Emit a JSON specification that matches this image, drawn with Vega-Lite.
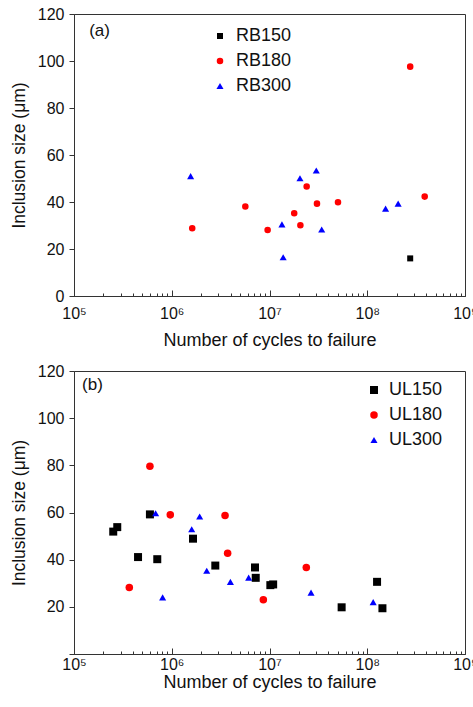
{
  "$schema": "https://vega.github.io/schema/vega-lite/v6.json",
  "autosize": {"type": "pad"},
  "padding": {"left": 9, "top": 5, "right": 0, "bottom": 0},
  "background": "white",
  "bounds": "flush",
  "spacing": 75,
  "config": {
    "font": "Liberation Sans",
    "view": {"stroke": "#333", "strokeWidth": 1},
    "axis": {"grid": false, "domainColor": "#333", "tickColor": "#333", "labelColor": "#111", "titleColor": "#111", "labelFont": "Liberation Sans", "titleFont": "Liberation Sans", "titleFontWeight": "normal", "labelFontSize": 16},
    "legend": {"labelFont": "Liberation Sans", "labelFontSize": 18, "labelColor": "#111", "padding": 0}
  },
  "datasets": {
    "a": [
      {"cycles": 2.75e8, "size": 16.0, "series": "RB150"},
      {"cycles": 1.62e6, "size": 28.8, "series": "RB180"},
      {"cycles": 5.66e6, "size": 38.1, "series": "RB180"},
      {"cycles": 9.57e6, "size": 28.1, "series": "RB180"},
      {"cycles": 1.79e7, "size": 35.2, "series": "RB180"},
      {"cycles": 2.07e7, "size": 30.1, "series": "RB180"},
      {"cycles": 2.40e7, "size": 46.6, "series": "RB180"},
      {"cycles": 3.06e7, "size": 39.3, "series": "RB180"},
      {"cycles": 5.02e7, "size": 39.9, "series": "RB180"},
      {"cycles": 2.75e8, "size": 97.6, "series": "RB180"},
      {"cycles": 3.87e8, "size": 42.3, "series": "RB180"},
      {"cycles": 1.56e6, "size": 51.0, "series": "RB300"},
      {"cycles": 1.34e7, "size": 30.5, "series": "RB300"},
      {"cycles": 1.38e7, "size": 16.5, "series": "RB300"},
      {"cycles": 2.05e7, "size": 50.1, "series": "RB300"},
      {"cycles": 3.01e7, "size": 53.4, "series": "RB300"},
      {"cycles": 3.42e7, "size": 28.3, "series": "RB300"},
      {"cycles": 1.54e8, "size": 37.2, "series": "RB300"},
      {"cycles": 2.07e8, "size": 39.3, "series": "RB300"}
    ],
    "b": [
      {"cycles": 2.52e5, "size": 51.9, "series": "UL150"},
      {"cycles": 2.77e5, "size": 53.8, "series": "UL150"},
      {"cycles": 4.52e5, "size": 41.1, "series": "UL150"},
      {"cycles": 5.98e5, "size": 59.2, "series": "UL150"},
      {"cycles": 7.11e5, "size": 40.2, "series": "UL150"},
      {"cycles": 1.65e6, "size": 48.9, "series": "UL150"},
      {"cycles": 2.79e6, "size": 37.5, "series": "UL150"},
      {"cycles": 7.11e6, "size": 36.7, "series": "UL150"},
      {"cycles": 7.23e6, "size": 32.3, "series": "UL150"},
      {"cycles": 1.02e7, "size": 29.2, "series": "UL150"},
      {"cycles": 1.09e7, "size": 29.5, "series": "UL150"},
      {"cycles": 5.47e7, "size": 19.8, "series": "UL150"},
      {"cycles": 1.26e8, "size": 30.6, "series": "UL150"},
      {"cycles": 1.43e8, "size": 19.4, "series": "UL150"},
      {"cycles": 3.68e5, "size": 28.2, "series": "UL180"},
      {"cycles": 5.98e5, "size": 79.6, "series": "UL180"},
      {"cycles": 9.66e5, "size": 59.0, "series": "UL180"},
      {"cycles": 3.51e6, "size": 58.7, "series": "UL180"},
      {"cycles": 3.73e6, "size": 42.7, "series": "UL180"},
      {"cycles": 8.65e6, "size": 23.0, "series": "UL180"},
      {"cycles": 2.38e7, "size": 36.7, "series": "UL180"},
      {"cycles": 6.84e5, "size": 59.7, "series": "UL300"},
      {"cycles": 8.07e5, "size": 24.0, "series": "UL300"},
      {"cycles": 1.60e6, "size": 52.9, "series": "UL300"},
      {"cycles": 1.93e6, "size": 58.3, "series": "UL300"},
      {"cycles": 2.28e6, "size": 35.3, "series": "UL300"},
      {"cycles": 3.98e6, "size": 30.6, "series": "UL300"},
      {"cycles": 6.12e6, "size": 32.4, "series": "UL300"},
      {"cycles": 2.66e7, "size": 26.0, "series": "UL300"},
      {"cycles": 1.15e8, "size": 22.0, "series": "UL300"}
    ]
  },
  "resolve": {"scale": {"color": "independent", "shape": "independent", "size": "independent"}, "legend": {"color": "independent", "shape": "independent"}},
  "vconcat": [
    {
      "width": 391,
      "height": 282,
      "layer": [
        {
          "data": {"name": "a"},
          "mark": {"type": "point", "filled": true, "opacity": 1},
          "encoding": {
            "x": {
              "field": "cycles", "type": "quantitative",
              "scale": {"type": "log", "domain": [100000, 1000000000], "nice": false},
              "axis": {
                "title": "Number of cycles to failure", "titleFontSize": 18, "titlePadding": 10,
                "values": [100000,200000,300000,400000,500000,600000,700000,800000,900000,1000000,2000000,3000000,4000000,5000000,6000000,7000000,8000000,9000000,10000000,20000000,30000000,40000000,50000000,60000000,70000000,80000000,90000000,100000000,200000000,300000000,400000000,500000000,600000000,700000000,800000000,900000000,1000000000],
                "labelExpr": "abs(log(datum.value)/LN10 - round(log(datum.value)/LN10)) < 1e-6 ? '10' + ['\u2070','\u00b9','\u00b2','\u00b3','\u2074','\u2075','\u2076','\u2077','\u2078','\u2079'][round(log(datum.value)/LN10)] : ''",
                "labelOverlap": false, "labelFlush": false,
                "tickSize": -6,
                "tickDash": {"condition": {"test": "abs(log(datum.value)/LN10 - round(log(datum.value)/LN10)) < 1e-6", "value": []}, "value": [3, 20]},
                "labelPadding": 15
              }
            },
            "y": {
              "field": "size", "type": "quantitative",
              "scale": {"domain": [0, 120], "nice": false},
              "axis": {
                "title": "Inclusion size (\u03bcm)", "titleFontSize": 17.5, "titlePadding": 9,
                "values": [0,10,20,30,40,50,60,70,80,90,100,110,120],
                "labelExpr": "datum.value % 20 === 0 ? datum.label : ''",
                "labelOverlap": false, "labelFlush": false,
                "tickSize": 5,
                "tickDash": {"condition": {"test": "datum.value % 20 === 0", "value": []}, "value": [3, 20]},
                "labelPadding": 5
              }
            },
            "color": {
              "field": "series", "type": "nominal",
              "scale": {"domain": ["RB150", "RB180", "RB300"], "range": ["#000000", "#ff0000", "#0000ff"]},
              "legend": {"title": null, "orient": "none", "legendX": 137, "legendY": 13, "labelOffset": 7, "rowPadding": 7, "symbolStrokeWidth": 0}
            },
            "shape": {
              "field": "series", "type": "nominal",
              "scale": {"domain": ["RB150", "RB180", "RB300"], "range": ["square", "circle", "triangle-up"]}
            },
            "size": {
              "field": "series", "type": "nominal",
              "scale": {"domain": ["RB150", "RB180", "RB300"], "range": [36, 50, 60]},
              "legend": null
            }
          }
        },
        {
          "data": {"values": [{}]},
          "mark": {"type": "text", "text": "(a)", "fontSize": 17, "align": "left", "baseline": "middle", "color": "#111"},
          "encoding": {
            "x": {"datum": 143000, "type": "quantitative"},
            "y": {"datum": 112.8, "type": "quantitative"}
          }
        }
      ]
    },
    {
      "width": 391,
      "height": 283,
      "layer": [
        {
          "data": {"name": "b"},
          "mark": {"type": "point", "filled": true, "opacity": 1},
          "encoding": {
            "x": {
              "field": "cycles", "type": "quantitative",
              "scale": {"type": "log", "domain": [100000, 1000000000], "nice": false},
              "axis": {
                "title": "Number of cycles to failure", "titleFontSize": 18, "titlePadding": 1,
                "values": [100000,200000,300000,400000,500000,600000,700000,800000,900000,1000000,2000000,3000000,4000000,5000000,6000000,7000000,8000000,9000000,10000000,20000000,30000000,40000000,50000000,60000000,70000000,80000000,90000000,100000000,200000000,300000000,400000000,500000000,600000000,700000000,800000000,900000000,1000000000],
                "labelExpr": "abs(log(datum.value)/LN10 - round(log(datum.value)/LN10)) < 1e-6 ? '10' + ['\u2070','\u00b9','\u00b2','\u00b3','\u2074','\u2075','\u2076','\u2077','\u2078','\u2079'][round(log(datum.value)/LN10)] : ''",
                "labelOverlap": false, "labelFlush": false,
                "tickSize": -6,
                "tickDash": {"condition": {"test": "abs(log(datum.value)/LN10 - round(log(datum.value)/LN10)) < 1e-6", "value": []}, "value": [3, 20]},
                "labelPadding": 8
              }
            },
            "y": {
              "field": "size", "type": "quantitative",
              "scale": {"domain": [0, 120], "nice": false},
              "axis": {
                "title": "Inclusion size (\u03bcm)", "titleFontSize": 17.5, "titlePadding": 9,
                "values": [0,10,20,30,40,50,60,70,80,90,100,110,120],
                "labelExpr": "datum.value % 20 === 0 && datum.value > 0 ? datum.label : ''",
                "labelOverlap": false, "labelFlush": false,
                "tickSize": 5,
                "tickDash": {"condition": {"test": "datum.value % 20 === 0", "value": []}, "value": [3, 20]},
                "labelPadding": 5
              }
            },
            "color": {
              "field": "series", "type": "nominal",
              "scale": {"domain": ["UL150", "UL180", "UL300"], "range": ["#000000", "#ff0000", "#0000ff"]},
              "legend": {"title": null, "orient": "none", "legendX": 291, "legendY": 10, "labelOffset": 6, "rowPadding": 7, "symbolStrokeWidth": 0}
            },
            "shape": {
              "field": "series", "type": "nominal",
              "scale": {"domain": ["UL150", "UL180", "UL300"], "range": ["square", "circle", "triangle-up"]}
            },
            "size": {
              "field": "series", "type": "nominal",
              "scale": {"domain": ["UL150", "UL180", "UL300"], "range": [64, 50, 60]},
              "legend": null
            }
          }
        },
        {
          "data": {"values": [{}]},
          "mark": {"type": "text", "text": "(b)", "fontSize": 17, "align": "left", "baseline": "middle", "color": "#111"},
          "encoding": {
            "x": {"datum": 121000, "type": "quantitative"},
            "y": {"datum": 114.2, "type": "quantitative"}
          }
        }
      ]
    }
  ]
}
